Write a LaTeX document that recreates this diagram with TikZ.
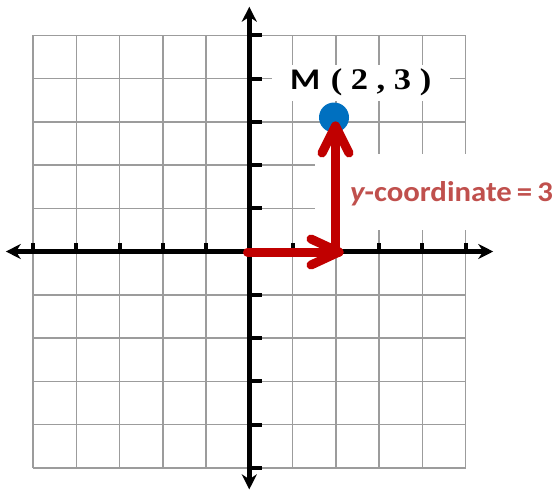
\documentclass[tikz,border=0pt]{standalone}
\usepackage{fontspec}
\usetikzlibrary{arrows.meta}
\newfontfamily\carlito{Carlito}
\newfontfamily\lserif{Liberation Serif}
\definecolor{gridgray}{HTML}{9C9C9C}
\definecolor{arrowred}{HTML}{C00000}
\definecolor{textred}{HTML}{C0504D}
\definecolor{dotblue}{HTML}{0070C0}
\begin{document}
\begin{tikzpicture}[x=1pt,y=-1pt,
  gridline/.style={draw=gridgray, line width=1.5pt},
  axisline/.style={line width=4.5pt, {Stealth[length=15pt,width=15pt]}-{Stealth[length=15pt,width=15pt]}},
  tickmark/.style={line width=4pt},
  redarrow/.style={draw=arrowred, line width=9pt, line cap=round, line join=round},
  whitebox/.style={fill=white, draw=none},
  pointdot/.style={circle, fill=dotblue, minimum size=30pt, inner sep=0pt},
  mtext/.style={anchor=base west, inner sep=0pt, font=\fontsize{30}{33}\selectfont},
  ytext/.style={anchor=base west, inner sep=0pt, text=textred, font=\carlito\bfseries\fontsize{28.5}{32}\selectfont}]
\useasboundingbox (0,0) rectangle (559,490);
% grid
\begin{scope}[shift={(249.3,251.5)}, x=43.25pt, y=43.25pt]
  \draw[gridline, step=1] (-5,-5) grid (5,5);
\end{scope}
% white backgrounds behind labels
\fill[whitebox] (272,65) rectangle (450,101);
\fill[whitebox] (315,154) rectangle (556,230);
% axes and ticks
\begin{scope}[shift={(249.3,251.5)}, x=43.25pt, y=43.25pt]
  \coordinate (xl) at (-5.63,0);
  \coordinate (xr) at (5.64,0);
  \coordinate (yb) at (0,-5.5);
  \coordinate (yt) at (0,5.66);
  \draw[axisline] (xl) -- (xr);
  \draw[axisline] (yb) -- (yt);
  \foreach \i in {-5,-4,-3,-2,-1,1,2,3,4,5} {
    \draw[tickmark] (\i,0) -- (\i,0.19);
    \draw[tickmark] (0,\i) -- (0.29,\i);
  }
\end{scope}
% point
\node[pointdot] (M) at (334,117.5) {};
% red arrows
\coordinate (O) at (247.5,252);
\coordinate (H) at (339,252);
\coordinate (Ha) at (311,239);
\coordinate (Hb) at (311,265);
\coordinate (C) at (335.5,250);
\coordinate (V) at (335.5,126);
\coordinate (Va) at (322,153);
\coordinate (Vb) at (349,153);
\draw[redarrow] (O) -- (H);
\draw[redarrow] (Ha) -- (H) -- (Hb);
\draw[redarrow] (C) -- (V);
\draw[redarrow] (Va) -- (V) -- (Vb);
% labels
\node[mtext] (mlabel) at (290,89) {\scalebox{1.15}[1]{{\carlito\bfseries M} {\lserif\bfseries ( 2 , 3 )}}};
\node[ytext] (ylabel) at (350,201) {\scalebox{1.08}[1]{{\itshape y}-coordinate\,=\,3}};
\end{tikzpicture}
\end{document}
